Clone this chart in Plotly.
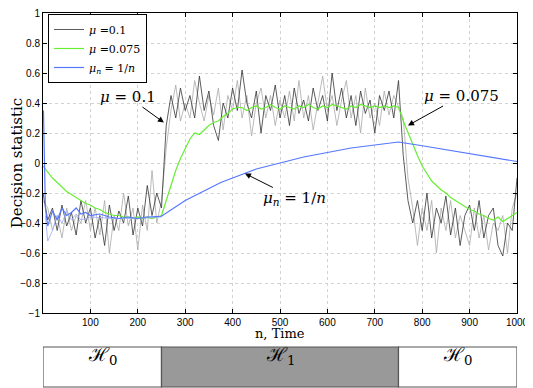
import plotly.graph_objects as go

# ── Data (step 10 in n) ──────────────────────────────────────
N = list(range(0, 1001, 10))

MU_01_A = [
    -0.20, -0.38, -0.30, -0.45, -0.28, -0.42, -0.33, -0.48, -0.25, -0.40,
    -0.30, -0.50, -0.35, -0.55, -0.28, -0.45, -0.32, -0.40, -0.22, -0.48,
    -0.30, -0.42, -0.15, -0.35, -0.20, -0.30, 0.25, 0.45, 0.30, 0.50,
    0.35, 0.45, 0.30, 0.58, 0.35, 0.48, 0.25, 0.15, 0.40, 0.30,
    0.50, 0.35, 0.62, 0.40, 0.30, 0.48, 0.20, 0.45, 0.35, 0.52,
    0.30, 0.45, 0.25, 0.50, 0.33, 0.42, 0.28, 0.50, 0.35, 0.45,
    0.28, 0.60, 0.35, 0.50, 0.30, 0.45, 0.25, 0.48, 0.33, 0.42,
    0.20, 0.45, 0.35, 0.48, 0.30, 0.55, 0.05, -0.25, -0.40, -0.25,
    -0.45, -0.20, -0.50, -0.30, -0.40, -0.22, -0.48, -0.30, -0.55, -0.35,
    -0.28, -0.45, -0.25, -0.50, -0.35, -0.30, -0.55, -0.62, -0.40, -0.45,
    -0.10,
]
MU_01_B = [
    -0.25, -0.30, -0.45, -0.35, -0.50, -0.30, -0.45, -0.35, -0.40, -0.25,
    -0.45, -0.30, -0.48, -0.25, -0.60, -0.35, -0.45, -0.20, -0.42, -0.30,
    -0.58, -0.28, -0.45, -0.05, -0.40, -0.25, 0.10, 0.35, 0.52, 0.28,
    0.40, 0.30, 0.55, 0.40, 0.28, 0.45, 0.32, 0.50, 0.22, 0.45,
    0.35, 0.55, 0.30, 0.45, 0.18, 0.40, 0.50, 0.30, 0.45, 0.25,
    0.42, 0.30, 0.48, 0.28, 0.55, 0.30, 0.45, 0.22, 0.40, 0.58,
    0.35, 0.45, 0.25, 0.42, 0.55, 0.30, 0.45, 0.20, 0.50, 0.30,
    0.40, 0.25, 0.48, 0.32, 0.45, 0.38, 0.30, -0.10, -0.30, -0.55,
    -0.30, -0.45, -0.25, -0.60, -0.30, -0.45, -0.25, -0.50, -0.35, -0.45,
    -0.55, -0.30, -0.50, -0.35, -0.58, -0.40, -0.45, -0.35, -0.60, -0.30,
    -0.20,
]
MU_0075 = [
    -0.02, -0.06, -0.10, -0.13, -0.16, -0.19, -0.21, -0.23, -0.25, -0.27,
    -0.28, -0.30, -0.31, -0.33, -0.34, -0.35, -0.35, -0.36, -0.36, -0.37,
    -0.36, -0.37, -0.36, -0.37, -0.36, -0.35, -0.25, -0.15, -0.05, 0.03,
    0.10, 0.16, 0.20, 0.19, 0.22, 0.25, 0.27, 0.28, 0.31, 0.33,
    0.36, 0.37, 0.37, 0.35, 0.37, 0.38, 0.36, 0.37, 0.39, 0.37,
    0.36, 0.38, 0.37, 0.36, 0.38, 0.37, 0.39, 0.37, 0.36, 0.38,
    0.37, 0.39, 0.38, 0.37, 0.36, 0.38, 0.37, 0.39, 0.38, 0.37,
    0.38, 0.37, 0.38, 0.37, 0.38, 0.37, 0.28, 0.20, 0.12, 0.05,
    -0.02, -0.07, -0.12, -0.15, -0.18, -0.20, -0.23, -0.25, -0.27, -0.29,
    -0.31, -0.32, -0.34, -0.35, -0.37, -0.38, -0.36, -0.39, -0.37, -0.35,
    -0.33,
]

BLUE_N = [1, 5, 10, 20, 30, 40, 50, 60, 70, 80, 90, 100, 120, 140, 160, 180,
          200, 220, 250, 275, 300, 325, 350, 375, 400, 425, 450, 475, 500,
          550, 600, 650, 700, 750, 800, 850, 900, 950, 1000]
MU_N = [0.35, -0.30, -0.42, -0.32, -0.38, -0.30, -0.35, -0.33, -0.30, -0.34,
        -0.33, -0.35, -0.34, -0.36, -0.37, -0.36, -0.37, -0.36, -0.355, -0.30,
        -0.25, -0.21, -0.17, -0.13, -0.10, -0.07, -0.04, -0.02, 0.0,
        0.04, 0.07, 0.10, 0.12, 0.14, 0.115, 0.09, 0.06, 0.035, 0.01]
BLUE2_N = [5, 10, 20, 30, 40, 50, 60, 70, 80, 100, 150, 200, 250]
MU_N_2 = [-0.35, -0.52, -0.45, -0.35, -0.40, -0.32, -0.38, -0.34, -0.38,
          -0.36, -0.37, -0.37, -0.36]

Y_TICKS = [-1, -0.8, -0.6, -0.4, -0.2, 0, 0.2, 0.4, 0.6, 0.8, 1]
Y_LABELS = ["\u22121", "\u22120.8", "\u22120.6", "\u22120.4", "\u22120.2",
            "0", "0.2", "0.4", "0.6", "0.8", "1"]
X_TICKS = list(range(100, 1001, 100))

SEGMENTS = [(0, 250, "white", "\u210b<sub>0</sub>"),
            (250, 750, "#999999", "\u210b<sub>1</sub>"),
            (750, 1000, "white", "\u210b<sub>0</sub>")]

# the page has an 8px body margin: shrink the figure and shift coordinates
OFF = 8
W, H = 533 - OFF, 388 - OFF
SERIF = "DejaVu Serif, serif"
SANS = "Liberation Sans, Arial, sans-serif"


def px_x(p):
    return (p - OFF) / W


def px_y(p):
    return (H - (p - OFF)) / H


fig = go.Figure()
fig.add_trace(go.Scatter(x=N, y=MU_01_B, mode="lines", showlegend=False,
                         line=dict(color="#aaaaaa", width=0.8)))
fig.add_trace(go.Scatter(x=N, y=MU_01_A, mode="lines", name="<i>\u03bc</i> =0.1",
                         line=dict(color="#333333", width=0.8)))
fig.add_trace(go.Scatter(x=N, y=MU_0075, mode="lines", name="<i>\u03bc</i> =0.075",
                         line=dict(color="#66ee33", width=1.2)))
fig.add_trace(go.Scatter(x=BLUE2_N, y=MU_N_2, mode="lines", showlegend=False,
                         line=dict(color="#99aaff", width=0.8)))
fig.add_trace(go.Scatter(x=BLUE_N, y=MU_N, mode="lines",
                         name="<i>\u03bc<sub>n</sub></i> = 1/<i>n</i>",
                         line=dict(color="#5577ff", width=1.2)))

# hypothesis strip under the plot
for x0, x1, col, lab in SEGMENTS:
    fig.add_shape(type="rect", xref="x", yref="paper", x0=x0, x1=x1,
                  y0=px_y(387), y1=px_y(347), fillcolor=col,
                  line=dict(color="#555555", width=1.2))
    fig.add_annotation(xref="x", yref="paper", x=(x0 + x1) / 2, y=px_y(370),
                       text=lab, showarrow=False,
                       font=dict(family=SERIF, size=19, color="black"))

# x-axis title placed by hand, between tick labels and the strip
fig.add_annotation(xref="paper", yref="paper", x=px_x(280), y=px_y(333),
                   text="n, Time", showarrow=False, yanchor="middle",
                   font=dict(family=SERIF, size=13, color="black"))

ann_font = dict(family=SERIF, size=15, color="black")
for x, y, txt, ax, ay in [
    (255, 0.27, "<i>\u03bc</i> = 0.1", -36, -26),
    (770, 0.25, "<i>\u03bc</i> = 0.075", 54, -30),
    (426, -0.07, "<i>\u03bc<sub>n</sub></i> = 1/<i>n</i>", 50, 25),
]:
    fig.add_annotation(x=x, y=y, text=txt, ax=ax, ay=ay, showarrow=True,
                       arrowhead=2, arrowsize=1.2, arrowwidth=1,
                       arrowcolor="black", font=ann_font)

axis_common = dict(showline=True, linecolor="black", linewidth=1, mirror="ticks",
                   ticks="inside", ticklen=4, tickcolor="black",
                   showgrid=True, gridcolor="#d2d2d2", griddash="dot",
                   gridwidth=1, zeroline=False, automargin=False,
                   ticklabeloverflow="allow",
                   tickfont=dict(family=SANS, size=10, color="black"))

fig.update_layout(
    width=W, height=H,
    paper_bgcolor="white", plot_bgcolor="white",
    margin=dict(l=0, r=0, t=0, b=0),
    xaxis=dict(**axis_common, range=[0, 1000], tickvals=X_TICKS,
               domain=[px_x(43), px_x(517)]),
    yaxis=dict(**axis_common, range=[-1, 1], tickvals=Y_TICKS, ticktext=Y_LABELS,
               domain=[px_y(313), px_y(13)],
               title=dict(text="Decision statistic", standoff=6,
                          font=dict(family=SERIF, size=15, color="black"))),
    legend=dict(x=px_x(48), y=px_y(14), xanchor="left", yanchor="top",
                bgcolor="white", bordercolor="black", borderwidth=1,
                font=dict(family=SERIF, size=11, color="black"),
                tracegroupgap=0, itemwidth=30),
    showlegend=True,
)

fig.write_html("out.html")
